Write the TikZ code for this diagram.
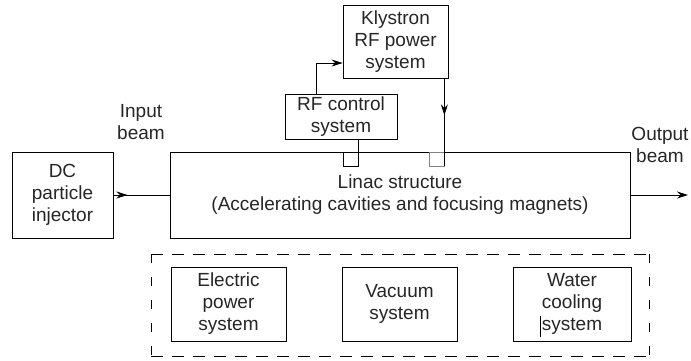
\documentclass[tikz,border=0pt]{standalone}
\usepackage{fontspec}
\setmainfont{Liberation Sans}
\usetikzlibrary{arrows.meta,decorations.markings,calc}
\begin{document}
\begin{tikzpicture}[x=1pt,y=-1pt,
  box/.style={draw,line width=0.8pt,inner sep=0pt,align=center,text=black!85,font=\fontsize{19}{22}\selectfont},
  lbl/.style={inner sep=0pt,align=center,text=black!85,font=\fontsize{19}{22.5}\selectfont},
  wire/.style={line width=0.8pt},
  tip/.style={-{Stealth[length=11pt,width=7pt]}},
  midtip/.style={postaction={decorate},decoration={markings,mark=at position #1 with {\arrow{Stealth[length=11pt,width=7pt]}}}},
  sq/.style={draw,line width=0.8pt,inner sep=0pt,minimum width=15pt,minimum height=14pt}]
\useasboundingbox (0,0) rectangle (691,360);
% nodes
\node[box,minimum width=101pt,minimum height=86pt] (dc) at (62.5,195) {DC\\particle\\injector};
\node[box,minimum width=460pt,minimum height=86pt] (linac) at (400,195) {Linac structure\\(Accelerating cavities and focusing magnets)};
\node[box,minimum width=112pt,minimum height=45pt] (rfc) at (341,116.5) {RF control\\system};
\node[box,minimum width=105pt,minimum height=73pt] (kly) at (395.5,41.5) {Klystron\\RF power\\system};
\node[sq] (sq1) at (350.5,159) {};
\node[sq,draw=gray] (sq2) at (436.5,159) {};
\node[box,minimum width=115pt,minimum height=74pt] (elec) at (228.5,304) {Electric\\power\\system};
\node[box,minimum width=115pt,minimum height=74pt] (vac) at (399.5,304) {Vacuum\\system};
\node[box,minimum width=118pt,minimum height=74pt] (water) at (572,304) {Water\\cooling\\system};
\node[lbl] (inlbl) at (141,122) {Input\\beam};
\node[lbl] (outlbl) at (660,145) {Output\\beam};
\coordinate (outend) at (688,195);
% dashed enclosure
\draw[wire,dash pattern=on 12pt off 9pt] (151,254) -- (649,254);
\draw[wire,dash pattern=on 12pt off 9pt] (151,356) -- (649,356);
\draw[wire,dash pattern=on 9pt off 14pt] (151,254) -- (151,356);
\draw[wire,dash pattern=on 9pt off 14pt] (649,254) -- (649,356);
% connectors
\draw[wire,midtip=0.25] (dc.east) -- (linac.west);
\draw[wire,tip] (linac.east) -- (outend);
\draw[wire,tip] ([xshift=-25pt]rfc.north) |- ([yshift=-21.5pt]kly.west);
\draw[wire] (sq1.south east |- rfc.south) -- (sq1.south east);
\draw[wire,midtip=0.42] (sq2.south east |- kly.south) -- (sq2.south east);
% cursor mark
\draw[line width=0.7pt] (540.5,316) -- (540.5,337);
\end{tikzpicture}
\end{document}
